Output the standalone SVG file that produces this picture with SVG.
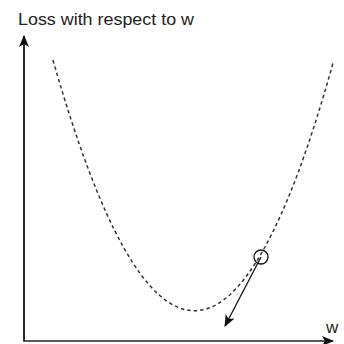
<svg xmlns="http://www.w3.org/2000/svg" width="344" height="344" viewBox="0 0 344 344">
<style>
.lbl{font-family:"Liberation Sans",Arial,sans-serif;font-size:17px;fill:#222}
.axis{fill:none;stroke:#222;stroke-width:1.6}
.curve{fill:none;stroke:#333;stroke-width:1.5;stroke-dasharray:3.5 3}
.grad{fill:none;stroke:#111;stroke-width:1.3}
</style>
<defs>
<marker id="ah" viewBox="0 0 12 10" refX="11" refY="5" markerWidth="12" markerHeight="10" markerUnits="userSpaceOnUse" orient="auto">
<path d="M0,0 L12,5 L0,10 L3,5 Z" fill="#111"/>
</marker>
</defs>
<rect width="344" height="344" fill="#fff"/>
<g id="title"><text class="lbl" x="18" y="25" textLength="176" lengthAdjust="spacingAndGlyphs">Loss with respect to w</text></g>
<g id="wlabel"><text class="lbl" x="326" y="333">w</text></g>
<g id="loss-curve"><path class="curve" d="M53,60 Q195,560 333,63"/></g>
<g id="point"><circle cx="261" cy="257" r="7" fill="none" stroke="#111" stroke-width="1.3"/></g>
<g id="connectors">
<path class="axis" d="M24,36 L24,341 L333,341" marker-end="url(#ah)"/>
<path class="axis" d="M24,341 L24,36" marker-end="url(#ah)"/>
<path class="grad" d="M261,257 L225,326" marker-end="url(#ah)"/>
</g>
</svg>
